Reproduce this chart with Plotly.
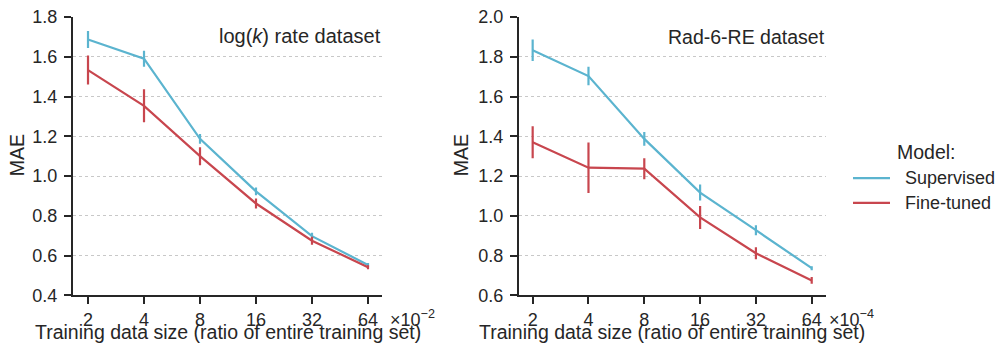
import math
import plotly.graph_objects as go

sizes = [2, 4, 8, 16, 32, 64]
tick_labels = ["2", "4", "8", "16", "32", "64"]

logk_supervised = [1.687, 1.590, 1.187, 0.923, 0.698, 0.553]
logk_supervised_err = [0.043, 0.040, 0.025, 0.020, 0.017, 0.010]
logk_finetuned = [1.533, 1.353, 1.100, 0.862, 0.675, 0.542]
logk_finetuned_err = [0.073, 0.083, 0.045, 0.025, 0.020, 0.010]

rad_supervised = [1.833, 1.703, 1.387, 1.117, 0.928, 0.737]
rad_supervised_err = [0.054, 0.047, 0.035, 0.040, 0.025, 0.010]
rad_finetuned = [1.370, 1.242, 1.237, 0.992, 0.812, 0.675]
rad_finetuned_err = [0.080, 0.127, 0.053, 0.058, 0.030, 0.017]

series_names = ["Supervised", "Fine-tuned"]

C_SUP = "#5bb4cf"
C_FT = "#c8464e"
TXT = "#262626"
FONT = "Liberation Sans, Arial, sans-serif"
FS_TICK = 18
FS_LAB = 19.5

W, H = 995, 349

fig = go.Figure()

def add(y, err, color, name, xa, ya):
    fig.add_trace(go.Scatter(
        x=sizes, y=y, mode="lines", name=name, showlegend=False,
        line=dict(color=color, width=2.2),
        error_y=dict(type="data", array=err, visible=True, color=color, thickness=2.2, width=0),
        xaxis=xa, yaxis=ya,
    ))

add(logk_supervised, logk_supervised_err, C_SUP, series_names[0], "x", "y")
add(logk_finetuned, logk_finetuned_err, C_FT, series_names[1], "x", "y")
add(rad_supervised, rad_supervised_err, C_SUP, series_names[0], "x2", "y2")
add(rad_finetuned, rad_finetuned_err, C_FT, series_names[1], "x2", "y2")

# the captured picture maps page rows as pic = 0.948 * page + 7; place things by picture row
def px(x):
    return x / W

def py(y_pic):
    y_page = (y_pic - 7.0) / 0.948
    return 1 - y_page / H

xdom1 = [px(73), px(382)]
xdom2 = [px(519), px(826)]
ydom = [py(294), py(14)]

L2 = math.log10(2)
xr1 = [0.732 * L2, 6.25 * L2]
xr2 = [0.755 * L2, 6.256 * L2]

common_x = dict(type="log", tickvals=sizes, ticktext=tick_labels, showgrid=False,
                showline=True, linecolor=TXT, linewidth=2, ticks="outside",
                ticklen=7, tickwidth=2, tickcolor=TXT, zeroline=False,
                ticklabelstandoff=0, ticklabeloverflow="allow",
                tickfont=dict(size=FS_TICK, color=TXT, family=FONT))
common_y = dict(showgrid=True, gridcolor="#c8c8c8", griddash="dot", gridwidth=1,
                showline=True, linecolor=TXT, linewidth=2, ticks="outside",
                ticklen=7, tickwidth=2, tickcolor=TXT, zeroline=False, dtick=0.2,
                tickformat=".1f", ticklabelstandoff=3, ticklabeloverflow="allow",
                tickfont=dict(size=FS_TICK, color=TXT, family=FONT))

fig.update_layout(
    width=W, height=H, margin=dict(l=0, r=0, t=0, b=0),
    paper_bgcolor="white", plot_bgcolor="white",
    font=dict(family=FONT, size=FS_TICK, color=TXT),
    xaxis=dict(domain=xdom1, range=xr1, anchor="y", **common_x),
    yaxis=dict(domain=ydom, range=[0.4, 1.8], anchor="x", **common_y),
    xaxis2=dict(domain=xdom2, range=xr2, anchor="y2", **common_x),
    yaxis2=dict(domain=ydom, range=[0.6, 2.0], anchor="x2", **common_y),
    showlegend=False,
)

def ann(text, x, y, xanchor="center", yanchor="middle", size=FS_LAB, angle=0):
    fig.add_annotation(text=text, xref="paper", yref="paper", x=x, y=y,
                       xanchor=xanchor, yanchor=yanchor, showarrow=False, textangle=angle,
                       font=dict(size=size, color=TXT, family=FONT))

# panel labels
ann("log(<i>k</i>) rate dataset", px(383), py(33), xanchor="right", size=20)
ann("Rad-6-RE dataset", px(827), py(34), xanchor="right")

# axis titles
xtitle = "Training data size (ratio of entire training set)"
ann(xtitle, px(228), py(331))
ann(xtitle, px(672), py(331))
ann("MAE", px(17), py(153), angle=-90)
ann("MAE", px(461), py(153), angle=-90)

# offset labels
ann("×10<sup>−2</sup>", px(388), py(317), xanchor="left", size=FS_TICK)
ann("×10<sup>−4</sup>", px(827), py(317), xanchor="left", size=FS_TICK)

# legend
ann("Model:", px(895), py(150), xanchor="left", size=FS_LAB)
for i, (name, col) in enumerate(zip(series_names, [C_SUP, C_FT])):
    yy = 176 + 25 * i
    fig.add_shape(type="line", xref="paper", yref="paper",
                  x0=px(853), x1=px(890), y0=py(yy), y1=py(yy),
                  line=dict(color=col, width=2.2))
    ann(name, px(903), py(yy), xanchor="left", size=FS_TICK)

js = ("var d=document.documentElement,b=document.body;"
      "d.style.margin='0';d.style.padding='0';d.style.overflow='hidden';d.style.height='349px';"
      "b.style.margin='0';b.style.padding='0';b.style.overflow='hidden';b.style.height='349px';")
fig.write_html("out.html", config={"displayModeBar": False}, post_script=js)
